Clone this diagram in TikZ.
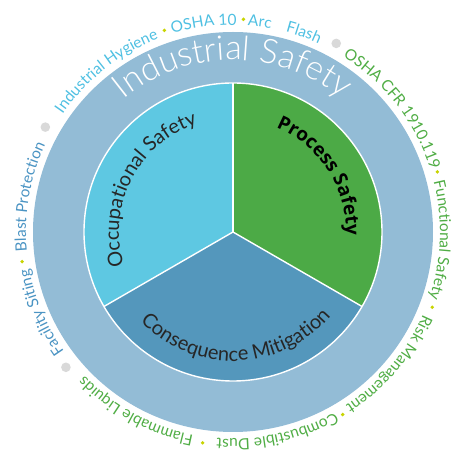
\documentclass[tikz,border=0pt]{standalone}
\usepackage{fontspec}
\setmainfont{Lato}
\newfontfamily\psfont{Open Sans}
\newfontfamily\lightfont{Lato Light}
\usetikzlibrary{decorations.text,calc}
\definecolor{ringc}{HTML}{93BCD6}
\definecolor{cyanc}{HTML}{5EC8E2}
\definecolor{greenc}{HTML}{4CAA46}
\definecolor{bluec}{HTML}{5497BC}
\definecolor{cyantxt}{HTML}{4FC0E2}
\definecolor{greentxt}{HTML}{50AD45}
\definecolor{bluetxt}{HTML}{4B94C3}
\definecolor{darktxt}{HTML}{262626}
\definecolor{ydot}{HTML}{C8D400}
\definecolor{gdot}{HTML}{D9D9D9}
% clockwise text (tops outward): radius, mid angle, format, text
\newcommand\cwtext[4]{%
  \path[decorate,decoration={text along path,text align=center,
    text={|#3|#4}}]
    ($(O)+({#2+45}:#1pt)$) arc[start angle={#2+45},end angle={#2-45},radius=#1pt];}
% counter-clockwise text (tops inward)
\newcommand\ccwtext[4]{%
  \path[decorate,decoration={text along path,text align=center,
    text={|#3|#4}}]
    ($(O)+({#2-50}:#1pt)$) arc[start angle={#2-50},end angle={#2+50},radius=#1pt];}
\tikzset{
  sep/.style={white,line width=1.4pt},
  ydotstyle/.style={fill=ydot},
  gdotstyle/.style={fill=gdot}
}
\begin{document}
\begin{tikzpicture}[x=1pt,y=1pt]
\useasboundingbox (0,0) rectangle (464,455);
\coordinate (O) at (233,223);
% rings and sectors
\fill[ringc] (O) circle[radius=200pt];
\fill[cyanc] (O) -- ($(O)+(90:149pt)$) arc[start angle=90,end angle=210,radius=149pt] -- cycle;
\fill[greenc] (O) -- ($(O)+(90:149pt)$) arc[start angle=90,end angle=-30,radius=149pt] -- cycle;
\fill[bluec] (O) -- ($(O)+(210:149pt)$) arc[start angle=210,end angle=330,radius=149pt] -- cycle;
\draw[sep] (O) circle[radius=149pt];
\draw[sep] (O) -- ($(O)+(90:149pt)$);
\draw[sep] (O) -- ($(O)+(210:149pt)$);
\draw[sep] (O) -- ($(O)+(330:149pt)$);
% ring title
\cwtext{172}{90}{\color{white}\lightfont\fontsize{34}{34}\selectfont}{Industrial Safety}
% sector titles
\cwtext{114}{152.7}{\color{darktxt}\fontsize{20}{20}\selectfont}{Occupational Safety}
\cwtext{113}{33}{\color{black}\psfont\bfseries\fontsize{19}{19}\selectfont}{Process Safety}
\ccwtext{129}{271.7}{\color{darktxt}\fontsize{20}{20}\selectfont}{Consequence Mitigation}
% outer ring of topics
\cwtext{207}{128.2}{\color{cyantxt}\fontsize{15.5}{15.5}\selectfont}{Industrial Hygiene}
\cwtext{207}{98}{\color{cyantxt}\fontsize{15.5}{15.5}\selectfont}{OSHA 10}
\cwtext{207}{82.7}{\color{cyantxt}\fontsize{15.5}{15.5}\selectfont}{Arc}
\cwtext{207}{70.4}{\color{cyantxt}\fontsize{15.5}{15.5}\selectfont}{Flash}
\cwtext{207}{37.7}{\color{greentxt}\fontsize{15.5}{15.5}\selectfont}{OSHA CFR 1910.119}
\cwtext{207}{-2.2}{\color{greentxt}\fontsize{15.5}{15.5}\selectfont}{Functional Safety}
\cwtext{207}{-40.2}{\color{greentxt}\fontsize{15.5}{15.5}\selectfont}{Risk Management}
\cwtext{207}{-77.5}{\color{greentxt}\fontsize{15.5}{15.5}\selectfont}{Combustible Dust}
\cwtext{207}{-118.4}{\color{greentxt}\fontsize{15.5}{15.5}\selectfont}{Flammable Liquids}
\cwtext{207}{202.8}{\color{bluetxt}\fontsize{15.5}{15.5}\selectfont}{Facility Siting}
\cwtext{207}{170.2}{\color{bluetxt}\fontsize{15.5}{15.5}\selectfont}{Blast Protection}
% small separator dots
\foreach \a in {108.8,87.2,16.4,-20.7,-59,-98.2,188}
  \fill[ydotstyle] ($(O)+(\a:213pt)$) circle[radius=1.9pt];
% group separator dots
\foreach \a in {150.8,61.3,219}
  \fill[gdotstyle] ($(O)+(\a:215pt)$) circle[radius=4.8pt];
\end{tikzpicture}
\end{document}
